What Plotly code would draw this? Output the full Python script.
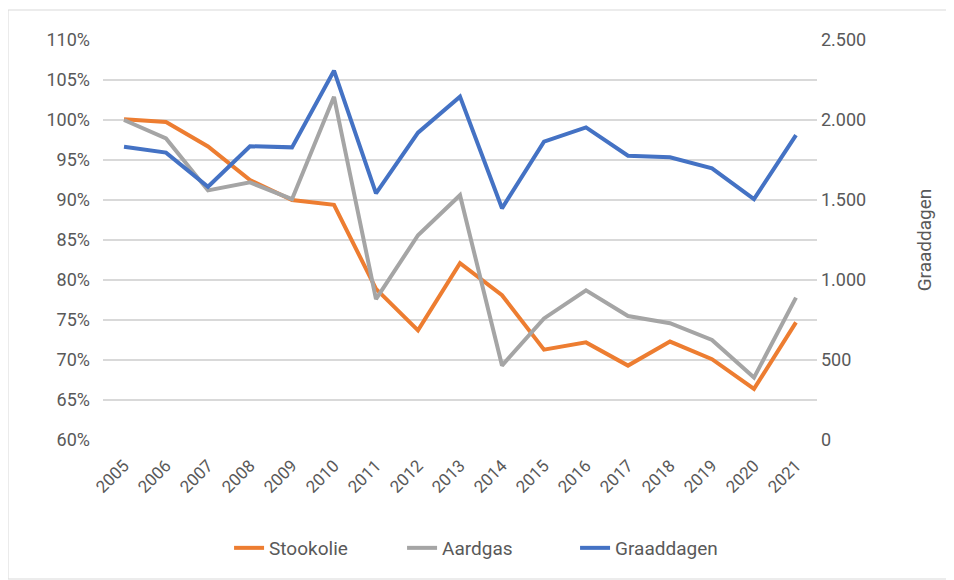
import plotly.graph_objects as go

years = [str(y) for y in range(2005, 2022)]
stookolie = [100.1, 99.75, 96.7, 92.5, 90.0, 89.4, 78.9, 73.7, 82.1, 78.1, 71.3, 72.2, 69.3, 72.3, 70.1, 66.4, 74.7]
aardgas = [100.0, 97.7, 91.2, 92.2, 90.1, 102.9, 77.6, 85.6, 90.6, 69.3, 75.2, 78.7, 75.5, 74.6, 72.5, 67.8, 77.8]
graaddagen = [1833, 1796, 1583, 1836, 1829, 2308, 1542, 1921, 2146, 1448, 1865, 1954, 1777, 1767, 1698, 1506, 1906]

left_ticks = list(range(60, 111, 5))
left_labels = [f"{v}%" for v in left_ticks]
right_ticks = list(range(0, 2501, 500))
right_labels = ["0", "500", "1.000", "1.500", "2.000", "2.500"]

font_family = "Roboto, Open Sans, sans-serif"
txt = "#595959"

fig = go.Figure()
fig.add_trace(go.Scatter(x=years, y=stookolie, name="Stookolie", mode="lines",
                         line=dict(color="#ED7D31", width=4)))
fig.add_trace(go.Scatter(x=years, y=aardgas, name="Aardgas", mode="lines",
                         line=dict(color="#A5A5A5", width=4)))
fig.add_trace(go.Scatter(x=years, y=graaddagen, name="Graaddagen", mode="lines",
                         line=dict(color="#4472C4", width=4), yaxis="y2"))

fig.update_layout(
    width=946, height=572,
    margin=dict(l=95, r=137, t=32, b=140),
    paper_bgcolor="white", plot_bgcolor="white",
    font=dict(family=font_family, size=18, color=txt),
    xaxis=dict(type="category", range=[-0.5, 16.5], tickangle=-45, showgrid=False,
               showline=False, ticks="outside", ticklen=8, tickcolor="rgba(0,0,0,0)",
               tickfont=dict(size=17, color=txt)),
    yaxis=dict(range=[60, 110], tickvals=left_ticks, ticktext=left_labels,
               showgrid=True, gridcolor="#D9D9D9", gridwidth=1.5,
               zeroline=False, showline=False, ticks="", ticklabelstandoff=12,
               tickfont=dict(size=18, color=txt)),
    yaxis2=dict(range=[0, 2500], tickvals=right_ticks, ticktext=right_labels,
                overlaying="y", side="right", showgrid=False, zeroline=False,
                showline=False, ticks="", ticklabelstandoff=3,
                tickfont=dict(size=18, color=txt),
                title=dict(text="Graaddagen", font=dict(size=19, color=txt), standoff=52)),
    legend=dict(orientation="h", x=0.54, xanchor="center", y=-0.27, yanchor="middle",
                font=dict(size=19, color=txt), traceorder="normal",
                entrywidth=128, entrywidthmode="pixels"),
    showlegend=True,
)

fig.add_shape(type="rect", xref="paper", yref="paper",
              x0=-0.133, x1=1.19, y0=-0.3475, y1=1.075,
              line=dict(color="#D9D9D9", width=1), layer="below")

fig.write_html("out.html")
